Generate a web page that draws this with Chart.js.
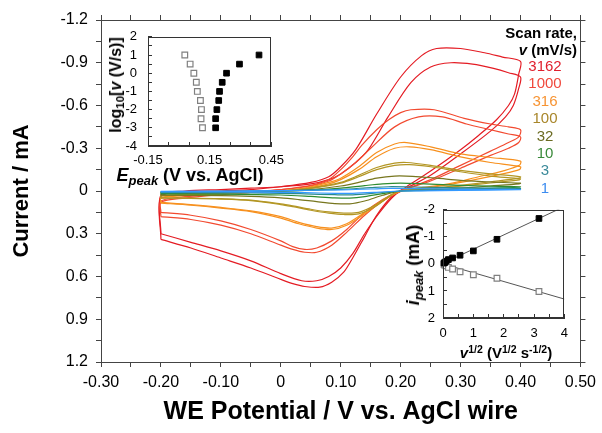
<!DOCTYPE html>
<html>
<head>
<meta charset="utf-8">
<script src="https://cdn.jsdelivr.net/npm/chart.js@4.4.1/dist/chart.umd.min.js"></script>
<style>
  html, body { margin: 0; padding: 0; background: #fff; }
  #wrap { position: relative; width: 602px; height: 433px; overflow: hidden;
          font-family: "Liberation Sans", Arial, sans-serif; color: #000; }
  canvas { position: absolute; }
  .lbl { position: absolute; line-height: 1; white-space: nowrap; transform: translate(-50%, -50%); font-weight: bold; }
  .rot { transform: translate(-50%, -50%) rotate(-90deg); }
  .rlbl { position: absolute; right: 25px; line-height: 1; white-space: nowrap; transform: translateY(-50%); font-weight: bold; font-size: 15px; }
  .sub { font-size: 72%; position: relative; top: 0.3em; }
  .sup { font-size: 70%; position: relative; top: -0.45em; }
  .rate { position: absolute; left: 545px; line-height: 1; font-size: 15px; transform: translate(-50%, -50%); }
</style>
</head>
<body>
<div id="wrap">
  <canvas id="main" width="602" height="433" style="left:0;top:0"></canvas>
  <canvas id="inset1" width="195" height="160" style="left:100px;top:14px"></canvas>
  <canvas id="inset2" width="180" height="150" style="left:400px;top:190px"></canvas>

  <div class="lbl rot" style="left:116px;top:85px;font-size:16px">log<span class="sub">10</span>[<i>v</i> (V/s)]</div>
  <div class="lbl" style="left:190px;top:175px;font-size:18px"><i>E</i><span class="sub"><i>peak</i></span> (V vs. AgCl)</div>
  <div class="lbl rot" style="left:413px;top:265px;font-size:18px"><i>i</i><span class="sub"><i>peak</i></span> (mA)</div>
  <div class="lbl" style="left:506px;top:352px;font-size:15px"><i>v</i><span class="sup">1/2</span> (V<span class="sup">1/2</span> s<span class="sup">-1/2</span>)</div>

  <div class="rlbl" style="top:32px">Scan rate,</div>
  <div class="rlbl" style="top:49px"><i>v</i> (mV/s)</div>
  <div id="rates"></div>
</div>
<script>
Chart.defaults.font.family = '"Liberation Sans", Arial, sans-serif';
Chart.defaults.color = '#000';

// ---- main plot: cyclic voltammograms [E (V), I (mA)] ----
const cv3162a = [[-0.2,0.34],[-0.2,0.04],[-0.16,0.01],[-0.1,0.0],[-0.05,-0.01],[0.0,-0.03],[0.05,-0.06],[0.08,-0.1],[0.1,-0.17],
  [0.125,-0.29],[0.16,-0.54],[0.2,-0.8],[0.235,-0.95],[0.26,-1.0],[0.3,-1.0],[0.34,-0.97],[0.37,-0.94],[0.4,-0.91],
  [0.397,-0.82],[0.39,-0.68],[0.38,-0.6],[0.36,-0.5],[0.33,-0.39],[0.3,-0.29],[0.25,-0.14],[0.21,-0.03],[0.185,0.04],
  [0.16,0.17],[0.14,0.32],[0.12,0.47],[0.105,0.57],[0.085,0.64],[0.065,0.675],[0.04,0.67],[0.02,0.65],[0.0,0.62],
  [-0.05,0.54],[-0.1,0.47],[-0.15,0.4],[-0.2,0.34]];
const cv3162b = [[-0.2,0.30],[-0.2,0.03],[-0.16,0.0],[-0.1,-0.01],[-0.05,-0.02],[0.0,-0.03],[0.05,-0.05],[0.08,-0.08],[0.1,-0.12],
  [0.125,-0.2],[0.146,-0.29],[0.179,-0.52],[0.217,-0.76],[0.25,-0.87],[0.284,-0.9],[0.32,-0.89],[0.355,-0.86],[0.38,-0.83],[0.4,-0.8],
  [0.397,-0.72],[0.388,-0.6],[0.375,-0.52],[0.35,-0.42],[0.3,-0.26],[0.25,-0.11],[0.21,-0.02],[0.19,0.03],[0.165,0.15],
  [0.14,0.3],[0.12,0.44],[0.1,0.54],[0.08,0.6],[0.06,0.63],[0.035,0.63],[0.0,0.58],[-0.05,0.49],[-0.1,0.42],[-0.15,0.36],[-0.2,0.30]];
const cv1000a = [[-0.2,0.18],[-0.2,0.08],[-0.16,0.05],[-0.1,0.025],[-0.05,0.01],[0.0,-0.01],[0.05,-0.04],[0.08,-0.08],[0.1,-0.15],
  [0.12,-0.24],[0.135,-0.32],[0.16,-0.43],[0.18,-0.5],[0.2,-0.55],[0.217,-0.57],[0.256,-0.57],[0.306,-0.51],[0.35,-0.47],[0.38,-0.45],[0.4,-0.43],
  [0.397,-0.38],[0.38,-0.34],[0.35,-0.28],[0.3,-0.18],[0.25,-0.08],[0.2,0.0],[0.17,0.07],[0.14,0.17],[0.11,0.29],[0.085,0.38],
  [0.06,0.43],[0.04,0.43],[0.02,0.41],[0.0,0.38],[-0.05,0.30],[-0.1,0.24],[-0.15,0.20],[-0.2,0.18]];
const cv1000b = [[-0.2,0.15],[-0.2,0.07],[-0.16,0.04],[-0.1,0.02],[-0.05,0.005],[0.0,-0.01],[0.05,-0.035],[0.08,-0.07],[0.1,-0.12],
  [0.125,-0.2],[0.15,-0.3],[0.19,-0.45],[0.23,-0.52],[0.27,-0.52],[0.31,-0.47],[0.35,-0.43],[0.38,-0.4],[0.4,-0.38],
  [0.397,-0.34],[0.38,-0.3],[0.35,-0.25],[0.3,-0.16],[0.25,-0.07],[0.2,0.0],[0.17,0.06],[0.14,0.15],[0.11,0.27],[0.085,0.35],
  [0.06,0.40],[0.04,0.41],[0.02,0.39],[0.0,0.35],[-0.05,0.27],[-0.1,0.21],[-0.15,0.17],[-0.2,0.15]];
const cv316a = [[-0.2,0.085],[-0.2,0.05],[-0.15,0.03],[-0.1,0.02],[-0.05,0.01],[0.0,0.0],[0.05,-0.03],[0.08,-0.06],[0.1,-0.09],
  [0.13,-0.17],[0.16,-0.27],[0.19,-0.33],[0.21,-0.34],[0.25,-0.31],[0.3,-0.26],[0.35,-0.235],[0.4,-0.21],
  [0.398,-0.18],[0.37,-0.14],[0.33,-0.1],[0.28,-0.05],[0.23,-0.02],[0.2,0.0],[0.17,0.07],[0.14,0.16],[0.11,0.24],[0.085,0.27],
  [0.06,0.26],[0.03,0.23],[0.0,0.19],[-0.05,0.145],[-0.1,0.12],[-0.15,0.10],[-0.2,0.085]];
const cv316b = [[-0.2,0.08],[-0.2,0.045],[-0.15,0.028],[-0.1,0.018],[-0.05,0.008],[0.0,0.0],[0.05,-0.025],[0.08,-0.05],[0.1,-0.08],
  [0.13,-0.15],[0.16,-0.24],[0.19,-0.3],[0.215,-0.31],[0.25,-0.29],[0.3,-0.24],[0.35,-0.2],[0.4,-0.17],
  [0.398,-0.15],[0.37,-0.12],[0.33,-0.085],[0.28,-0.045],[0.23,-0.015],[0.2,0.0],[0.17,0.065],[0.14,0.15],[0.11,0.23],[0.085,0.26],
  [0.06,0.25],[0.03,0.22],[0.0,0.18],[-0.05,0.14],[-0.1,0.115],[-0.15,0.095],[-0.2,0.08]];
const cv100a = [[-0.2,0.05],[-0.2,0.035],[-0.15,0.025],[-0.1,0.018],[-0.05,0.01],[0.0,0.0],[0.05,-0.02],[0.1,-0.06],[0.13,-0.11],
  [0.16,-0.165],[0.19,-0.195],[0.21,-0.2],[0.25,-0.18],[0.3,-0.145],[0.35,-0.12],[0.4,-0.10],
  [0.398,-0.09],[0.35,-0.065],[0.3,-0.04],[0.25,-0.018],[0.2,0.0],[0.184,0.03],[0.157,0.11],[0.13,0.16],[0.105,0.165],
  [0.08,0.155],[0.05,0.135],[0.02,0.11],[0.0,0.095],[-0.05,0.068],[-0.1,0.057],[-0.15,0.052],[-0.2,0.05]];
const cv100b = [[-0.2,0.047],[-0.2,0.032],[-0.15,0.023],[-0.1,0.016],[-0.05,0.008],[0.0,0.0],[0.05,-0.018],[0.1,-0.055],[0.13,-0.1],
  [0.16,-0.15],[0.19,-0.18],[0.215,-0.185],[0.25,-0.17],[0.3,-0.135],[0.35,-0.105],[0.4,-0.085],
  [0.398,-0.078],[0.35,-0.056],[0.3,-0.034],[0.25,-0.015],[0.2,0.0],[0.184,0.027],[0.157,0.1],[0.13,0.15],[0.105,0.155],
  [0.08,0.147],[0.05,0.128],[0.02,0.104],[0.0,0.09],[-0.05,0.064],[-0.1,0.054],[-0.15,0.049],[-0.2,0.047]];
const cv32 = [[-0.2,0.03],[-0.2,0.02],[-0.1,0.012],[0.0,0.0],[0.05,-0.01],[0.1,-0.035],[0.13,-0.06],[0.16,-0.09],[0.19,-0.105],
  [0.22,-0.103],[0.26,-0.09],[0.3,-0.075],[0.35,-0.063],[0.4,-0.055],
  [0.398,-0.05],[0.35,-0.035],[0.3,-0.02],[0.25,-0.008],[0.2,0.0],[0.17,0.03],[0.14,0.07],[0.115,0.09],[0.09,0.088],
  [0.06,0.075],[0.03,0.06],[0.0,0.048],[-0.05,0.038],[-0.1,0.033],[-0.2,0.03]];
const cv10 = [[-0.2,0.02],[-0.2,0.012],[-0.1,0.006],[0.0,0.0],[0.05,-0.006],[0.1,-0.02],[0.14,-0.038],[0.17,-0.05],[0.2,-0.055],
  [0.24,-0.05],[0.3,-0.04],[0.35,-0.034],[0.4,-0.03],
  [0.398,-0.027],[0.3,-0.012],[0.2,0.0],[0.17,0.018],[0.14,0.04],[0.115,0.05],[0.09,0.048],[0.05,0.038],[0.0,0.028],
  [-0.1,0.022],[-0.2,0.02]];
const cv3 = [[-0.2,0.012],[-0.2,0.006],[-0.1,0.003],[0.0,-0.002],[0.1,-0.012],[0.15,-0.024],[0.18,-0.03],[0.22,-0.028],
  [0.3,-0.022],[0.4,-0.018],
  [0.398,-0.016],[0.3,-0.008],[0.2,0.0],[0.16,0.014],[0.12,0.027],[0.09,0.026],[0.04,0.02],[0.0,0.016],[-0.1,0.013],[-0.2,0.012]];
const cv1 = [[-0.2,0.006],[-0.2,0.002],[-0.1,0.0],[0.0,-0.003],[0.1,-0.008],[0.15,-0.014],[0.18,-0.018],[0.22,-0.017],
  [0.3,-0.013],[0.4,-0.01],
  [0.398,-0.009],[0.3,-0.004],[0.2,0.0],[0.16,0.009],[0.12,0.016],[0.09,0.016],[0.04,0.012],[0.0,0.009],[-0.1,0.007],[-0.2,0.006]];

const scanRates = ['3162', '1000', '316', '100', '32', '10', '3', '1'];
const cvCycles = [[cv3162a, cv3162b], [cv1000a, cv1000b], [cv316a, cv316b], [cv100a, cv100b], [cv32], [cv10], [cv3], [cv1]];
const lineColors = ['#e41c24', '#f24a30', '#f7901e', '#b39624', '#77761e', '#2e8c30', '#2a8a8c', '#3399ff'];
const labelColors = ['#e0202e', '#f0483c', '#f79433', '#a8862a', '#6b6b22', '#3a8a3a', '#3a8a9a', '#3c8cf0'];

const xTicks = [-0.30,-0.25,-0.20,-0.15,-0.10,-0.05,0,0.05,0.10,0.15,0.20,0.25,0.30,0.35,0.40,0.45,0.50];
const xTickLabels = ['-0.30','','-0.20','','-0.10','','0','','0.10','','0.20','','0.30','','0.40','','0.50'];
const yTicks = [-1.2,-1.05,-0.9,-0.75,-0.6,-0.45,-0.3,-0.15,0,0.15,0.3,0.45,0.6,0.75,0.9,1.05,1.2];
const yTickLabels = ['-1.2','','-0.9','','-0.6','','-0.3','','0','','0.3','','0.6','','0.9','','1.2'];

// ---- inset 1: peak potential vs log scan rate ----
const logRate = [1, 0.5, 0, -0.5, -1, -1.5, -2, -2.5, -3];
const ePeakCathodic = [0.029, 0.055, 0.073, 0.085, 0.090, 0.105, 0.110, 0.108, 0.115];
const ePeakAnodic = [0.390, 0.295, 0.232, 0.211, 0.198, 0.194, 0.185, 0.179, 0.179];
const in1XTicks = [-0.15,-0.05,0.05,0.15,0.25,0.35,0.45];
const in1XLabels = ['-0.15','','','0.15','','','0.45'];
const in1YTicks = [-4,-3.5,-3,-2.5,-2,-1.5,-1,-0.5,0,0.5,1,1.5,2];
const in1YLabels = ['-4','','-3','','-2','','-1','','0','','1','','2'];

// ---- inset 2: peak current vs sqrt scan rate ----
const sqrtRate = [0.032, 0.055, 0.1, 0.178, 0.316, 0.562, 1.0, 1.778, 3.162];
const iPeakAnodic = [-0.03, -0.05, -0.1, -0.16, -0.22, -0.32, -0.48, -0.91, -1.68];
const iPeakCathodic = [0.02, 0.04, 0.07, 0.13, 0.19, 0.29, 0.40, 0.53, 1.02];
const fitX = [0, 4];
const fitAnodic = [-0.02, -2.12];
const fitCathodic = [0.0, 1.3];
const in2XTicks = [0,0.5,1,1.5,2,2.5,3,3.5,4];
const in2XLabels = ['0','','1','','2','','3','','4'];
const in2YTicks = [-2,-1.5,-1,-0.5,0,0.5,1,1.5,2];
const in2YLabels = ['-2','','-1','','0','','1','','2'];

function pts(pairs) { return pairs.map(([x, y]) => ({x, y})); }
function setTicks(values) { return scale => { scale.ticks = values.map(v => ({value: v})); }; }

const framePlugin = {
  id: 'frame',
  afterDraw(chart) {
    const {ctx, chartArea: a} = chart;
    ctx.save();
    ctx.strokeStyle = '#333';
    ctx.lineWidth = 1;
    ctx.strokeRect(Math.round(a.left) + 0.5, Math.round(a.top) + 0.5, Math.round(a.right - a.left) - 1, Math.round(a.bottom - a.top) - 1);
    ctx.restore();
  }
};

// main chart
const cvDatasets = [];
scanRates.forEach((rate, i) => {
  cvCycles[i].forEach(cycle => {
    cvDatasets.push({
      label: rate + ' mV/s',
      data: pts(cycle),
      showLine: true,
      borderColor: lineColors[i],
      borderWidth: 1.2,
      pointRadius: 0,
      tension: 0.3
    });
  });
});
cvDatasets.reverse();

function mainAxis(axis, position, ticks, labels, size, showLabels) {
  return {
    type: 'linear', axis, position,
    afterBuildTicks: setTicks(ticks),
    afterFit: s => { if (axis === 'x') s.height = size; else s.width = size; },
    ticks: {
      autoSkip: false, maxRotation: 0, padding: axis === 'x' ? 6 : 8,
      font: {size: 16}, color: '#000',
      callback: (v, i) => showLabels ? labels[i] : ''
    },
    grid: {drawOnChartArea: false, tickLength: 5, color: '#444'},
    border: {display: true, color: '#444', width: 1}
  };
}

const xMain = mainAxis('x', 'bottom', xTicks, xTickLabels, 71, true);
xMain.min = -0.3; xMain.max = 0.5;
xMain.title = {display: true, text: 'WE Potential / V vs. AgCl wire', font: {size: 25, weight: 'bold'}, color: '#000', padding: {top: 0, bottom: 6}};
const xTopAxis = mainAxis('x', 'top', xTicks, xTickLabels, 20, false);
xTopAxis.min = -0.3; xTopAxis.max = 0.5;
const yMain = mainAxis('y', 'left', yTicks, yTickLabels, 101, true);
yMain.min = -1.2; yMain.max = 1.2; yMain.reverse = true;
yMain.title = {display: true, text: 'Current / mA', font: {size: 22, weight: 'bold'}, color: '#000', padding: {top: 9, bottom: 0}};
const yRightAxis = mainAxis('y', 'right', yTicks, yTickLabels, 18, false);
yRightAxis.min = -1.2; yRightAxis.max = 1.2; yRightAxis.reverse = true;

new Chart(document.getElementById('main'), {
  type: 'scatter',
  data: {datasets: cvDatasets},
  options: {
    responsive: false, animation: false, devicePixelRatio: 1,
    layout: {padding: 0},
    plugins: {legend: {display: false}, tooltip: {enabled: false}},
    scales: {x: xMain, xTop: xTopAxis, y: yMain, yRight: yRightAxis}
  }
});

// inset axes: ticks point inward
function insetAxis(axis, ticks, labels, min, max, size, pad) {
  return {
    type: 'linear', min, max,
    afterBuildTicks: setTicks(ticks),
    afterFit: s => { if (axis === 'x') s.height = size; else s.width = size; },
    ticks: {autoSkip: false, maxRotation: 0, padding: pad, font: {size: 13}, color: '#000', callback: (v, i) => labels[i]},
    grid: {drawOnChartArea: false, tickLength: -4, color: '#333'},
    border: {display: true, color: '#333', width: 1}
  };
}

new Chart(document.getElementById('inset1'), {
  type: 'scatter',
  data: {
    datasets: [
      {data: logRate.map((v, i) => ({x: ePeakCathodic[i], y: v})), pointStyle: 'rect', pointRadius: 4,
       borderColor: '#808080', backgroundColor: '#fff', borderWidth: 1.2},
      {data: logRate.map((v, i) => ({x: ePeakAnodic[i], y: v})), pointStyle: 'rect', pointRadius: 4,
       borderColor: '#000', backgroundColor: '#000', borderWidth: 1}
    ]
  },
  options: {
    responsive: false, animation: false, devicePixelRatio: 1,
    layout: {padding: {top: 14, right: 23, left: 0, bottom: 0}},
    plugins: {legend: {display: false}, tooltip: {enabled: false}},
    scales: {
      x: insetAxis('x', in1XTicks, in1XLabels, -0.15, 0.45, 28, 11),
      y: insetAxis('y', in1YTicks, in1YLabels, -4, 2, 48, 15)
    }
  },
  plugins: [framePlugin]
});

const in2Y = insetAxis('y', in2YTicks, in2YLabels, -2, 2, 43, 12);
in2Y.reverse = true;
new Chart(document.getElementById('inset2'), {
  type: 'scatter',
  data: {
    datasets: [
      {data: sqrtRate.map((v, i) => ({x: v, y: iPeakAnodic[i]})), pointStyle: 'rect', pointRadius: 4,
       borderColor: '#000', backgroundColor: '#000', borderWidth: 1, clip: false},
      {data: sqrtRate.map((v, i) => ({x: v, y: iPeakCathodic[i]})), pointStyle: 'rect', pointRadius: 4,
       borderColor: '#808080', backgroundColor: '#fff', borderWidth: 1.2, clip: false},
      {data: fitX.map((v, i) => ({x: v, y: fitAnodic[i]})), showLine: true, pointRadius: 0, borderColor: '#555', borderWidth: 1},
      {data: fitX.map((v, i) => ({x: v, y: fitCathodic[i]})), showLine: true, pointRadius: 0, borderColor: '#555', borderWidth: 1}
    ]
  },
  options: {
    responsive: false, animation: false, devicePixelRatio: 1,
    layout: {padding: {top: 10, right: 9, left: 0, bottom: 0}},
    plugins: {legend: {display: false}, tooltip: {enabled: false}},
    scales: {
      x: insetAxis('x', in2XTicks, in2XLabels, 0, 4, 22, 12),
      y: in2Y
    }
  },
  plugins: [framePlugin]
});

// scan rate legend
const ratesBox = document.getElementById('rates');
scanRates.forEach((rate, i) => {
  const d = document.createElement('div');
  d.className = 'rate';
  d.style.top = (65 + i * 17.4) + 'px';
  d.style.color = labelColors[i];
  d.textContent = rate;
  ratesBox.appendChild(d);
});
</script>
</body>
</html>
